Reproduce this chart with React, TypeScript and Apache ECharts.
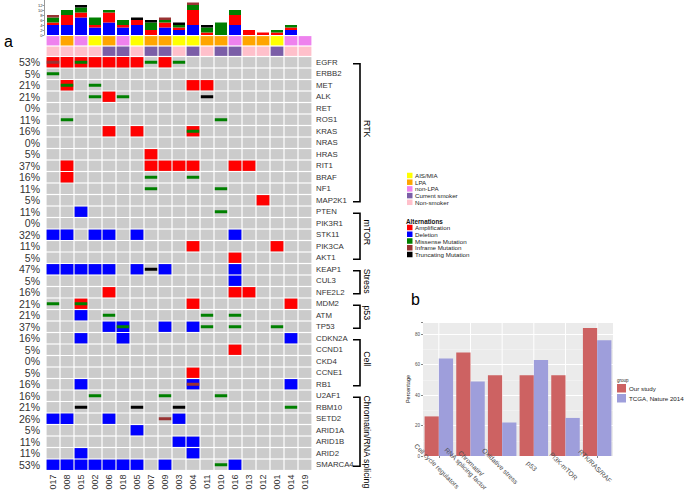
import React, { useEffect, useRef } from "react";
import * as echarts from "echarts";

const FONT = "'Liberation Sans', Arial, Helvetica, sans-serif";

// ---------- panel a data ----------
const samples = ["017","008","015","002","006","018","005","007","009","003","004","011","010","016","013","012","001","014","019"];

const genes = ["EGFR","ERBB2","MET","ALK","RET","ROS1","KRAS","NRAS","HRAS","RIT1","BRAF","NF1","MAP2K1",
  "PTEN","PIK3R1","STK11","PIK3CA","AKT1","KEAP1","CUL3","NFE2L2","MDM2","ATM","TP53",
  "CDKN2A","CCND1","CKD4","CCNE1","RB1","U2AF1","RBM10","SETD2","ARID1A","ARID1B","ARID2","SMARCA4"];

const percentLabels = ["53%","5%","21%","21%","0%","11%","16%","0%","5%","37%","16%","11%","5%",
  "11%","0%","32%","11%","5%","47%","5%","16%","21%","21%","37%",
  "16%","5%","0%","5%","16%","16%","21%","26%","5%","11%","11%","53%"];

// copy-number layer: A = amplification, D = deletion, . = none (one char per sample)
const cnaRows = [
  "AAAAAAA.A..........", // EGFR
  "...................", // ERBB2
  ".A........AA.......", // MET
  "....A..............", // ALK
  "...................", // RET
  "...................", // ROS1
  "....A.A...A........", // KRAS
  "...................", // NRAS
  ".......A...........", // HRAS
  ".A.....AAAA..AA....", // RIT1
  ".A.................", // BRAF
  "...................", // NF1
  "...............A...", // MAP2K1
  "..D................", // PTEN
  "...................", // PIK3R1
  "DD.DD.D......D.....", // STK11
  "..........A.....A..", // PIK3CA
  ".............A.....", // AKT1
  "DDDDD.D.D....D.....", // KEAP1
  ".............D.....", // CUL3
  "....A........AA....", // NFE2L2
  "..A.......A......A.", // MDM2
  "..D................", // ATM
  "....DD..D.D........", // TP53
  "..D..D...........D.", // CDKN2A
  ".............A.....", // CCND1
  "...................", // CKD4
  "..........A........", // CCNE1
  "..D.......D......D.", // RB1
  "...................", // U2AF1
  "...................", // RBM10
  "DD..D....D.........", // SETD2
  "......D............", // ARID1A
  ".........DD........", // ARID1B
  "..D.......D........", // ARID2
  "DDDDDDD.D....D.....", // SMARCA4
];

// mutation layer: M = missense, I = inframe, T = truncating
const mutationRows = [
  "I.M....M.M.........", // EGFR
  "M..................", // ERBB2
  ".M.M...............", // MET
  "...M.M.....T.......", // ALK
  "...................", // RET
  ".M..........M......", // ROS1
  "..........M........", // KRAS
  "...................", // NRAS
  "...................", // HRAS
  "...................", // RIT1
  ".......M..M........", // BRAF
  ".......M....M......", // NF1
  "...................", // MAP2K1
  "............M......", // PTEN
  "...................", // PIK3R1
  "...................", // STK11
  "...................", // PIK3CA
  "...................", // AKT1
  ".......T...........", // KEAP1
  "...................", // CUL3
  "...................", // NFE2L2
  "M.M................", // MDM2
  "....M......M.M.....", // ATM
  ".....M.....M.M..M..", // TP53
  "...................", // CDKN2A
  "...................", // CCND1
  "...................", // CKD4
  "...................", // CCNE1
  "..........I........", // RB1
  "...M....M...M......", // U2AF1
  "..T...T..T.......M.", // RBM10
  "........I..........", // SETD2
  "...................", // ARID1A
  "...................", // ARID1B
  "...................", // ARID2
  "............M......", // SMARCA4
];

const histology = ["non-LPA","LPA","non-LPA","AIS/MIA","LPA","non-LPA","AIS/MIA","LPA","LPA","AIS/MIA",
  "AIS/MIA","LPA","LPA","non-LPA","LPA","LPA","AIS/MIA","non-LPA","non-LPA"];
const smoking = ["Non-smoker","Non-smoker","Non-smoker","Non-smoker","Current smoker","Current smoker","Non-smoker",
  "Current smoker","Current smoker","Non-smoker","Current smoker","Non-smoker","Current smoker","Current smoker",
  "Non-smoker","Non-smoker","Current smoker","Non-smoker","Non-smoker"];

const pathwayNames = ["RTK","mTOR","Stress","p53","Cell","Chromatin/RNA splicing"];
const pathwayFirst = [0, 13, 18, 21, 24, 29];
const pathwayLast = [12, 17, 20, 23, 28, 35];

const alterationCodes = ["A","D","M","I","T"];
const alterationNames = ["Amplification","Deletion","Missense Mutation","Inframe Mutation","Truncating Mutation"];
const alterationColors = ["#ff0000","#0000ff","#008000","#993333","#000000"];

const annotationLabels = ["AIS/MIA","LPA","non-LPA","Current smoker","Non-smoker"];
const annotationColors = ["#ffff00","#ffa500","#ee82ee","#7b5ea7","#ffc0cb"];

// ---------- panel b data ----------
const pathwayCategories = ["Cell cycle regulators","Chromatin/\nRNA splicing factor","Oxidative stress","p53","PI3K-mTOR","RTK/RAS/RAF"];
const ourStudy = [26, 68, 53, 53, 53, 84];
const tcga = [64, 49, 22, 63, 25, 76];

function measure(text: string, size: number) {
  try {
    const ctx = document.createElement("canvas").getContext("2d")!;
    ctx.font = `${size}px 'Liberation Sans', Arial, sans-serif`;
    return ctx.measureText(text).width;
  } catch (e) {
    return text.length * size * 0.5;
  }
}

function buildOption() {
  const bgData: number[][] = [];
  genes.forEach((_, g) => samples.forEach((__, s) => bgData.push([s, g])));
  const fillData: number[][] = [];
  cnaRows.forEach((row, g) => row.split("").forEach((ch, s) => {
    const t = alterationCodes.indexOf(ch);
    if (t >= 0 && s < samples.length) fillData.push([s, g, t]);
  }));
  const mutData: number[][] = [];
  mutationRows.forEach((row, g) => row.split("").forEach((ch, s) => {
    const t = alterationCodes.indexOf(ch);
    if (t >= 0 && s < samples.length) mutData.push([s, g, t]);
  }));
  const counts = alterationCodes.map(() => samples.map(() => 0));
  fillData.concat(mutData).forEach((d) => { counts[d[2]][d[0]] += 1; });

  const annData: number[][] = [];
  histology.forEach((h, s) => annData.push([s, 0, annotationLabels.indexOf(h)]));
  smoking.forEach((h, s) => annData.push([s, 1, annotationLabels.indexOf(h)]));

  const cellRect = (api: any, fill: string, shrinkW: number, h?: number) => {
    const c = api.coord([api.value(0), api.value(1)]);
    const sz = api.size([1, 1]);
    const w = sz[0] - shrinkW;
    const hh = h !== undefined ? h : sz[1] - 1.2;
    return { type: "rect", shape: { x: c[0] - w / 2, y: c[1] - hh / 2, width: w, height: hh }, style: { fill } };
  };

  const stackOrder = [1, 0, 2, 3, 4]; // deletion bottom, then amp, missense, inframe, truncating
  const topBars = stackOrder.map((t) => ({
    type: "bar",
    name: alterationNames[t],
    xAxisIndex: 0,
    yAxisIndex: 0,
    stack: "alt",
    barWidth: "86%",
    silent: true,
    itemStyle: { color: alterationColors[t] },
    data: counts[t],
  }));

  const legendA: any[] = [];
  const sq = 5.5;
  annotationLabels.forEach((lab, i) => {
    const y = 175.5 + i * 6.7;
    legendA.push({ type: "rect", shape: { x: 407, y: y - sq / 2, width: sq, height: sq }, style: { fill: annotationColors[i] } });
    legendA.push({ type: "text", x: 415, y, style: { text: lab, fontSize: 6.2, fontFamily: FONT, fill: "#222", verticalAlign: "middle", align: "left" } });
  });
  legendA.push({ type: "text", x: 406, y: 221, style: { text: "Alternations", fontSize: 6.3, fontWeight: "bold", fontFamily: FONT, fill: "#111", verticalAlign: "middle" } });
  alterationNames.forEach((lab, i) => {
    const y = 227.5 + i * 6.75;
    legendA.push({ type: "rect", shape: { x: 407, y: y - sq / 2, width: sq, height: sq }, style: { fill: alterationColors[i] } });
    legendA.push({ type: "text", x: 415, y, style: { text: lab, fontSize: 6.2, fontFamily: FONT, fill: "#222", verticalAlign: "middle", align: "left" } });
  });

  return {
    animation: false,
    textStyle: { fontFamily: FONT },
    grid: [
      { left: 46, top: 0, width: 266, height: 35, outerBoundsMode: "none" },
      { left: 46, top: 35.5, width: 266, height: 21, outerBoundsMode: "none" },
      { left: 46, top: 56.5, width: 266, height: 414, outerBoundsMode: "none" },
      { left: 423, top: 322, width: 190, height: 134, show: true, backgroundColor: "#ebebeb", borderWidth: 0, outerBoundsMode: "none" },
    ],
    xAxis: [
      { type: "category", gridIndex: 0, data: samples, show: false },
      { type: "category", gridIndex: 1, data: samples, show: false },
      {
        type: "category", gridIndex: 2, data: samples, position: "bottom",
        axisLine: { show: false }, axisTick: { show: false }, splitLine: { show: false },
        axisLabel: { interval: 0, rotate: 90, fontSize: 9, color: "#333", margin: 4, fontFamily: FONT },
      },
      {
        type: "category", gridIndex: 3, data: pathwayCategories,
        axisLine: { show: false },
        axisTick: { show: true, alignWithLabel: true, length: 2, lineStyle: { color: "#333", width: 0.6 } },
        axisLabel: { show: false }, splitLine: { show: false },
      },
    ],
    yAxis: [
      {
        type: "value", gridIndex: 0, min: 0, max: 14, interval: 2, offset: 2,
        axisLine: { show: true, lineStyle: { color: "#333", width: 0.5 } },
        axisTick: { show: true, length: 1.5, lineStyle: { color: "#333", width: 0.5 } },
        axisLabel: { fontSize: 4, color: "#333", margin: 1.5, fontFamily: FONT, showMaxLabel: false },
        splitLine: { show: false },
      },
      { type: "category", gridIndex: 1, data: ["histology", "smoking"], inverse: true, show: false },
      {
        type: "category", gridIndex: 2, data: genes, inverse: true, position: "left",
        axisLine: { show: false }, axisTick: { show: false }, splitLine: { show: false },
        axisLabel: { interval: 0, fontSize: 10.5, color: "#333", margin: 6, fontFamily: FONT,
          formatter: (_v: string, idx: number) => percentLabels[idx] },
      },
      {
        type: "category", gridIndex: 2, data: genes, inverse: true, position: "right",
        axisLine: { show: false }, axisTick: { show: false }, splitLine: { show: false },
        axisLabel: { interval: 0, fontSize: 7.8, color: "#333", margin: 4, fontFamily: FONT },
      },
      {
        type: "value", gridIndex: 3, min: 0, max: 88, interval: 20,
        name: "Percentage", nameLocation: "middle", nameGap: 10, nameRotate: 90,
        nameTextStyle: { fontSize: 5.5, color: "#222", fontFamily: FONT },
        axisLine: { show: false },
        axisTick: { show: true, length: 2, lineStyle: { color: "#333", width: 0.6 } },
        axisLabel: { fontSize: 4.5, color: "#4d4d4d", margin: 3, fontFamily: FONT,
          formatter: (v: number) => (v % 20 === 0 ? String(v) : "") },
        splitLine: { show: true, lineStyle: { color: "#ffffff", width: 1 } },
        minorTick: { show: false, splitNumber: 2 },
        minorSplitLine: { show: true, lineStyle: { color: "#f7f7f7", width: 0.5 } },
      },
    ],
    legend: {
      data: ["Our study", "TCGA, Nature 2014"],
      left: 617, top: 384, orient: "vertical", icon: "rect",
      itemWidth: 9, itemHeight: 8.5, itemGap: 1.5, padding: 0, selectedMode: false,
      textStyle: { fontSize: 6.2, color: "#222", fontFamily: FONT, padding: [0, 0, 0, -2] },
    },
    graphic: [
      { type: "text", x: 4, y: 41, style: { text: "a", fontSize: 16, fontFamily: FONT, fill: "#000", verticalAlign: "middle" } },
      { type: "text", x: 411, y: 299, style: { text: "b", fontSize: 16, fontFamily: FONT, fill: "#000", verticalAlign: "middle" } },
      { type: "text", x: 617, y: 380.5, style: { text: "group", fontSize: 4.5, fontFamily: FONT, fill: "#222", verticalAlign: "middle" } },
      ...legendA,
    ],
    series: [
      ...topBars,
      {
        type: "custom", xAxisIndex: 1, yAxisIndex: 1, silent: true, data: annData,
        renderItem: (_p: any, api: any) => cellRect(api, annotationColors[api.value(2)], 1.2),
      },
      {
        type: "custom", xAxisIndex: 2, yAxisIndex: 2, silent: true, z: 1, data: bgData,
        renderItem: (_p: any, api: any) => cellRect(api, "#cbcbcb", 1.2),
      },
      {
        type: "custom", xAxisIndex: 2, yAxisIndex: 2, silent: true, z: 2, data: fillData,
        renderItem: (_p: any, api: any) => cellRect(api, alterationColors[api.value(2)], 1.2),
      },
      {
        type: "custom", xAxisIndex: 2, yAxisIndex: 2, silent: true, z: 3, data: mutData,
        renderItem: (_p: any, api: any) => cellRect(api, alterationColors[api.value(2)], 1.6, 3),
      },
      {
        type: "custom", xAxisIndex: 2, yAxisIndex: 2, silent: true, z: 4, clip: false,
        data: pathwayFirst.map((f, i) => [f, pathwayLast[i], i]),
        renderItem: (_p: any, api: any) => {
          const i = api.value(2);
          const p1 = api.coord([samples.length - 1, api.value(0)]);
          const p2 = api.coord([samples.length - 1, api.value(1)]);
          const half = api.size([1, 1])[0] / 2;
          const xr = p1[0] + half + 48;
          const y1 = p1[1] + 1.5, y2 = p2[1] + 1.5;
          const name = pathwayNames[i];
          const fs = 8.8;
          const len = measure(name, fs);
          let cy = (y1 + y2) / 2 - 4;
          if (cy - len / 2 < y1 - 2) cy = y1 - 2 + len / 2;
          return {
            type: "group",
            children: [
              { type: "polyline", shape: { points: [[xr - 7, y1], [xr, y1], [xr, y2], [xr - 7, y2]] },
                style: { stroke: "#000", lineWidth: 1.6, fill: "none" } },
              { type: "text", x: xr + 7, y: cy, rotation: -Math.PI / 2,
                style: { text: name, fontSize: fs, fontFamily: FONT, fill: "#000", align: "center", verticalAlign: "middle" } },
            ],
          };
        },
      },
      {
        type: "custom", xAxisIndex: 3, yAxisIndex: 4, silent: true, z: 1,
        data: pathwayCategories.map((_, i) => [i]),
        renderItem: (_p: any, api: any) => {
          const a = api.coord([api.value(0), 0]);
          const b = api.coord([api.value(0), 88]);
          return { type: "line", shape: { x1: a[0], y1: a[1], x2: b[0], y2: b[1] }, style: { stroke: "#ffffff", lineWidth: 1 } };
        },
      },
      {
        type: "bar", name: "Our study", xAxisIndex: 3, yAxisIndex: 4, z: 2, silent: true,
        barGap: "0%", barCategoryGap: "10%", itemStyle: { color: "#cd6262" }, data: ourStudy,
      },
      {
        type: "bar", name: "TCGA, Nature 2014", xAxisIndex: 3, yAxisIndex: 4, z: 2, silent: true,
        barGap: "0%", barCategoryGap: "10%", itemStyle: { color: "#9e9edb" }, data: tcga,
      },
      {
        type: "custom", xAxisIndex: 3, yAxisIndex: 4, silent: true, z: 5, clip: false,
        data: pathwayCategories.map((_, i) => [i]),
        renderItem: (_p: any, api: any) => {
          const i = api.value(0);
          const c = api.coord([i, 0]);
          return {
            type: "text", x: c[0] - 2, y: c[1] + 10, rotation: -Math.PI / 4,
            style: { text: pathwayCategories[i], fontSize: 6.7, lineHeight: 7.5, fontFamily: FONT, fill: "#4d4d4d",
              align: "center", verticalAlign: "middle" },
          };
        },
      },
    ],
  };
}

export default function App() {
  const ref = useRef<HTMLDivElement>(null);
  useEffect(() => {
    const chart = echarts.init(ref.current as HTMLDivElement, undefined, { renderer: "svg" });
    chart.setOption(buildOption() as any);
    return () => chart.dispose();
  }, []);
  return <div ref={ref} style={{ position: "absolute", left: 0, top: 0, width: 685, height: 493, background: "#fff" }} />;
}
